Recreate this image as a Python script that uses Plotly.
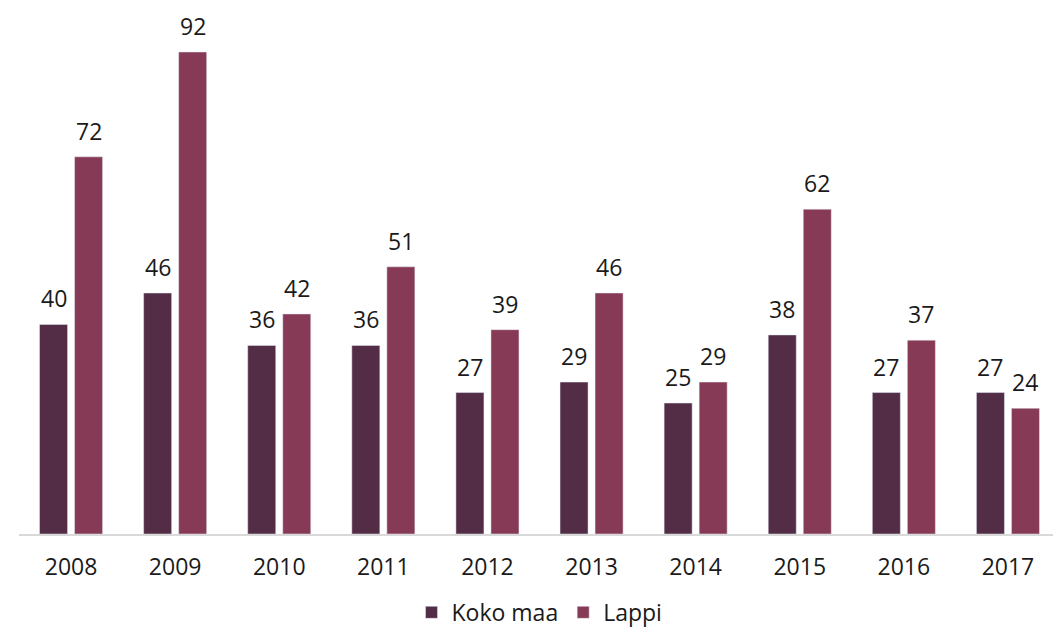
import plotly.graph_objects as go

years = ["2008", "2009", "2010", "2011", "2012", "2013", "2014", "2015", "2016", "2017"]
koko_maa = [40, 46, 36, 36, 27, 29, 25, 38, 27, 27]
lappi = [72, 92, 42, 51, 39, 46, 29, 62, 37, 24]

FONT = "Open Sans"
TEXT_COLOR = "#1a1a1a"

fig = go.Figure()

fig.add_trace(go.Bar(x=years, y=koko_maa, name="Koko maa", marker=dict(color="#522D45")))
fig.add_trace(go.Bar(x=years, y=lappi, name="Lappi", marker=dict(color="#873A55")))

# value labels above the bars (x as category index)
for values, shift in [(koko_maa, -17.5), (lappi, 17.5)]:
    for i, v in enumerate(values):
        fig.add_annotation(
            x=i, y=v, text=str(v),
            showarrow=False,
            xshift=shift, yshift=26,
            yanchor="middle",
            font=dict(size=23, color=TEXT_COLOR, family=FONT),
        )

# page body has an 8px margin, so the figure is sized to fit the window
fig.update_layout(
    width=1053,
    height=624,
    barmode="group",
    bargap=0.327,
    bargroupgap=0.2,
    plot_bgcolor="white",
    paper_bgcolor="white",
    margin=dict(l=11, r=1, t=0, b=98, autoexpand=False),
    font=dict(family=FONT, size=22, color=TEXT_COLOR),
    showlegend=True,
    legend=dict(
        orientation="h",
        x=0.5,
        xanchor="center",
        y=-0.149,
        yanchor="middle",
        font=dict(size=23, color=TEXT_COLOR),
    ),
    xaxis=dict(
        type="category",
        range=[-0.5, len(years) - 0.5],
        showline=True,
        linecolor="#d9d9d9",
        linewidth=2,
        ticks="",
        ticklabelstandoff=11,
        tickfont=dict(size=23, color=TEXT_COLOR),
        showgrid=False,
        automargin=False,
    ),
    yaxis=dict(
        range=[0, 100.4],
        visible=False,
        showgrid=False,
        automargin=False,
    ),
)

fig.write_html("out.html")
